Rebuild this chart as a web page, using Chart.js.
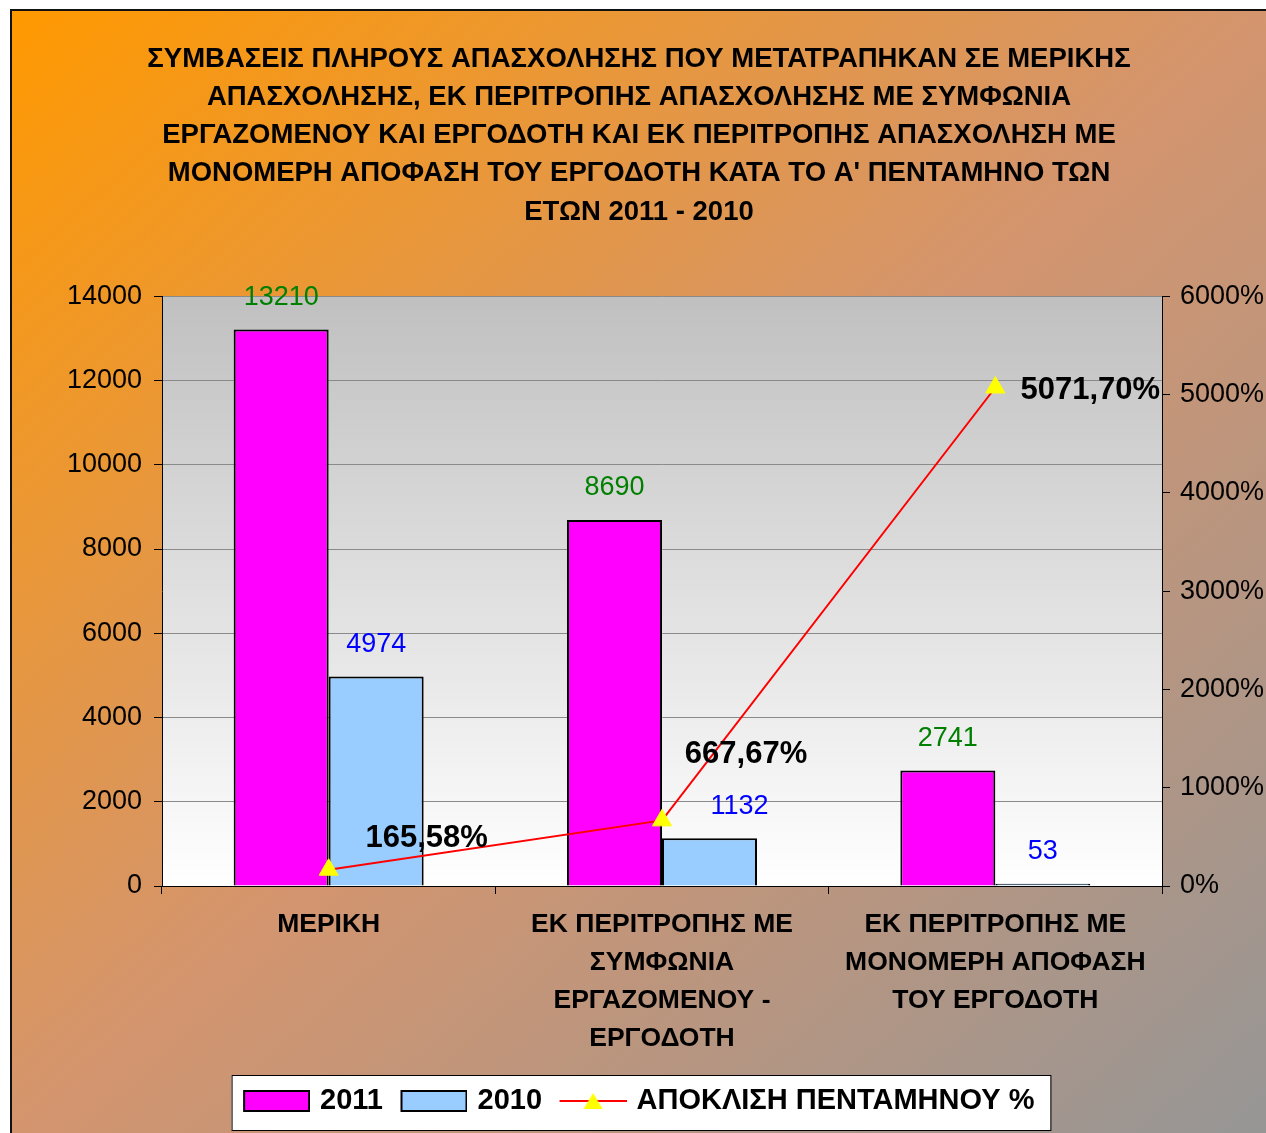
<!DOCTYPE html>
<html>
<head>
<meta charset="utf-8">
<script src="https://cdn.jsdelivr.net/npm/chart.js@4.4.1/dist/chart.umd.min.js"></script>
<style>
html,body{margin:0;padding:0;background:#fff;}
canvas{display:block;}
</style>
</head>
<body>
<canvas id="c" width="1266" height="1133"></canvas>
<script>
// ---------- DATA ----------
const titleLines = [
  "ΣΥΜΒΑΣΕΙΣ ΠΛΗΡΟΥΣ ΑΠΑΣΧΟΛΗΣΗΣ ΠΟΥ ΜΕΤΑΤΡΑΠΗΚΑΝ ΣΕ ΜΕΡΙΚΗΣ",
  "ΑΠΑΣΧΟΛΗΣΗΣ, ΕΚ ΠΕΡΙΤΡΟΠΗΣ ΑΠΑΣΧΟΛΗΣΗΣ ΜΕ ΣΥΜΦΩΝΙΑ",
  "ΕΡΓΑΖΟΜΕΝΟΥ ΚΑΙ ΕΡΓΟΔΟΤΗ ΚΑΙ ΕΚ ΠΕΡΙΤΡΟΠΗΣ ΑΠΑΣΧΟΛΗΣΗ ΜΕ",
  "ΜΟΝΟΜΕΡΗ ΑΠΟΦΑΣΗ ΤΟΥ ΕΡΓΟΔΟΤΗ ΚΑΤΑ ΤΟ Α' ΠΕΝΤΑΜΗΝΟ ΤΩΝ",
  "ΕΤΩΝ 2011 - 2010"
];
const categories = [
  "ΜΕΡΙΚΗ",
  ["ΕΚ ΠΕΡΙΤΡΟΠΗΣ ΜΕ", "ΣΥΜΦΩΝΙΑ", "ΕΡΓΑΖΟΜΕΝΟΥ -", "ΕΡΓΟΔΟΤΗ"],
  ["ΕΚ ΠΕΡΙΤΡΟΠΗΣ ΜΕ", "ΜΟΝΟΜΕΡΗ ΑΠΟΦΑΣΗ", "ΤΟΥ ΕΡΓΟΔΟΤΗ"]
];
const seriesNames = ["2011", "2010", "ΑΠΟΚΛΙΣΗ ΠΕΝΤΑΜΗΝΟΥ %"];
const values2011 = [13210, 8690, 2741];
const values2010 = [4974, 1132, 53];
const deviationPct = [165.58, 667.67, 5071.70];
const leftTickValues = [0, 2000, 4000, 6000, 8000, 10000, 12000, 14000];
const rightTickValues = [0, 1000, 2000, 3000, 4000, 5000, 6000];

// ---------- STYLE ----------
const FONT = "'Liberation Sans', Arial, sans-serif";
const COL2011 = "#FF00FF";
const COL2010 = "#99CCFF";
const LINECOL = "#FF0000";
const MARKCOL = "#FFFF00";
Chart.defaults.font.family = FONT;
Chart.defaults.color = "#000";

function fmtPct(v) { return v.toFixed(2).replace(".", ",") + "%"; }

// legend icons: 71px wide canvas, the 67px symbol sits on its right part
function swatch(fill) {
  const c = document.createElement("canvas");
  c.width = 71; c.height = 22;
  const x = c.getContext("2d");
  x.fillStyle = fill; x.fillRect(5, 1, 65, 20);
  x.strokeStyle = "#000"; x.lineWidth = 2; x.strokeRect(5, 1, 65, 20);
  return c;
}
function lineIcon() {
  const c = document.createElement("canvas");
  c.width = 71; c.height = 22;
  const x = c.getContext("2d");
  x.strokeStyle = LINECOL; x.lineWidth = 2;
  x.beginPath(); x.moveTo(4, 11); x.lineTo(71, 11); x.stroke();
  x.fillStyle = MARKCOL;
  x.beginPath(); x.moveTo(37.5, 3); x.lineTo(47, 19); x.lineTo(28, 19); x.closePath(); x.fill();
  return c;
}
const legendIcons = [swatch(COL2011), swatch(COL2010), lineIcon()];

const backgroundPlugin = {
  id: "bgPaint",
  beforeDraw(chart) {
    const { ctx, chartArea: a, width: W, height: H } = chart;
    ctx.save();
    ctx.fillStyle = "#fff";
    ctx.fillRect(0, 0, W, H);
    const x0 = 11, y0 = 10;
    const w = W - x0, h = H - y0;
    const vx = h, vy = w;
    const k = (2 * w * h) / (vx * vx + vy * vy);
    const g = ctx.createLinearGradient(x0, y0, x0 + vx * k, y0 + vy * k);
    g.addColorStop(0, "#FF9900");
    g.addColorStop(0.5, "#D4956E");
    g.addColorStop(1, "#969696");
    ctx.fillStyle = g;
    ctx.fillRect(x0, y0, w, h);
    ctx.strokeStyle = "#111";
    ctx.lineWidth = 2;
    ctx.beginPath();
    ctx.moveTo(x0, H + 5); ctx.lineTo(x0, y0); ctx.lineTo(W + 5, y0);
    ctx.stroke();
    // plot area
    const pg = ctx.createLinearGradient(0, a.top, 0, a.bottom);
    pg.addColorStop(0, "#C0C0C0");
    pg.addColorStop(1, "#FFFFFF");
    ctx.fillStyle = pg;
    ctx.fillRect(a.left, a.top, a.right - a.left, a.bottom - a.top);
    // legend frame
    const lg = chart.legend;
    if (lg && lg.lineWidths) {
      const pad = lg.options.labels.padding;
      const fs = lg.options.labels.font.size;
      const rowLeft = (lg.left + pad + lg.right - lg.lineWidths[0]) / 2;
      const rowRight = rowLeft + lg.lineWidths[0] - pad;
      const cy = lg.top + pad + fs / 2;
      ctx.fillStyle = "#fff";
      ctx.strokeStyle = "#000";
      ctx.lineWidth = 1;
      ctx.fillRect(rowLeft - 12, cy - 26, rowRight - rowLeft + 28, 55);
      ctx.strokeRect(rowLeft - 12 + 0.5, cy - 26 + 0.5, rowRight - rowLeft + 28, 55);
    }
    ctx.restore();
  }
};

const valueLabelPlugin = {
  id: "valueLabels",
  afterDatasetsDraw(chart, args, opts) {
    const ctx = chart.ctx;
    ctx.save();
    ctx.textAlign = "center";
    ctx.textBaseline = "middle";
    chart.data.datasets.forEach((ds, di) => {
      const meta = chart.getDatasetMeta(di);
      meta.data.forEach((el, i) => {
        const v = ds.data[i];
        if (ds.type === "line") {
          const off = opts.pctOffsets[i];
          ctx.font = "bold 31px " + FONT;
          ctx.fillStyle = "#000";
          ctx.fillText(fmtPct(v), el.x + off[0], el.y + off[1]);
        } else {
          const sx = (opts.barLabelShiftX[di] || [])[i] || 0;
          ctx.font = "27px " + FONT;
          ctx.fillStyle = opts.barLabelColors[di];
          ctx.fillText(String(v), el.x + sx, el.y - opts.barLabelGap);
        }
      });
    });
    ctx.restore();
  }
};

new Chart(document.getElementById("c"), {
  type: "bar",
  data: {
    labels: categories,
    datasets: [
      {
        label: seriesNames[0], data: values2011, yAxisID: "y",
        backgroundColor: COL2011, borderColor: "#000", borderWidth: 2,
        categoryPercentage: 0.57, barPercentage: 1.0, order: 1
      },
      {
        label: seriesNames[1], data: values2010, yAxisID: "y",
        backgroundColor: COL2010, borderColor: "#000", borderWidth: 2,
        categoryPercentage: 0.57, barPercentage: 1.0, order: 1
      },
      {
        type: "line", label: seriesNames[2], data: deviationPct, yAxisID: "y1",
        borderColor: LINECOL, backgroundColor: MARKCOL, borderWidth: 2, tension: 0, fill: false,
        pointStyle: "triangle", pointRadius: 11, pointBackgroundColor: MARKCOL,
        pointBorderColor: MARKCOL, pointBorderWidth: 1, order: 0
      }
    ]
  },
  options: {
    responsive: false,
    animation: false,
    devicePixelRatio: 1,
    layout: { padding: { left: 12, right: 0, top: 0, bottom: 7.5 } },
    scales: {
      x: {
        offset: true,
        grid: { drawOnChartArea: false, offset: true, tickLength: 8, tickColor: "#000", lineWidth: 1 },
        border: { color: "#000", width: 1 },
        ticks: {
          autoSkip: false, maxRotation: 0, minRotation: 0, padding: 12, color: "#000",
          font: { size: 26.5, weight: "bold", lineHeight: "38px" }
        },
        afterFit(s) { s.height = 182.5; }
      },
      y: {
        position: "left",
        min: leftTickValues[0], max: leftTickValues[leftTickValues.length - 1],
        ticks: {
          stepSize: leftTickValues[1] - leftTickValues[0], padding: 12, color: "#000",
          font: { size: 27 }, callback: (v) => String(v)
        },
        grid: { color: "#8a8a8a", lineWidth: 1, tickLength: 8, tickColor: "#000" },
        border: { color: "#000", width: 1 },
        afterFit(s) { s.width = 150; }
      },
      y1: {
        position: "right",
        min: rightTickValues[0], max: rightTickValues[rightTickValues.length - 1],
        ticks: {
          stepSize: rightTickValues[1] - rightTickValues[0], padding: 10, color: "#000",
          font: { size: 27 }, callback: (v) => v + "%"
        },
        grid: { drawOnChartArea: false, tickLength: 8, tickColor: "#000" },
        border: { color: "#000", width: 1 },
        afterFit(s) { s.width = 104; }
      }
    },
    plugins: {
      tooltip: { enabled: false },
      title: {
        display: true, text: titleLines, color: "#000",
        font: { size: 27.5, weight: "bold", lineHeight: "38.25px" },
        padding: { top: 40, bottom: 65 }
      },
      legend: {
        position: "bottom",
        labels: {
          color: "#000",
          font: { size: 29, weight: "bold" },
          padding: 18,
          usePointStyle: true,
          pointStyleWidth: 62,
          generateLabels(chart) {
            const items = Chart.defaults.plugins.legend.labels.generateLabels(chart);
            items.forEach((it) => { it.pointStyle = legendIcons[it.datasetIndex]; });
            return items;
          },
          sort: (a, b) => a.datasetIndex - b.datasetIndex
        }
      },
      valueLabels: {
        barLabelColors: ["#008000", "#0000FF"],
        barLabelGap: 32,
        barLabelShiftX: [[0, 0, 0], [0, 30, 0]],
        pctOffsets: [[98, -31], [84, -66], [95, 3]]
      }
    }
  },
  plugins: [backgroundPlugin, valueLabelPlugin]
});
</script>
</body>
</html>
